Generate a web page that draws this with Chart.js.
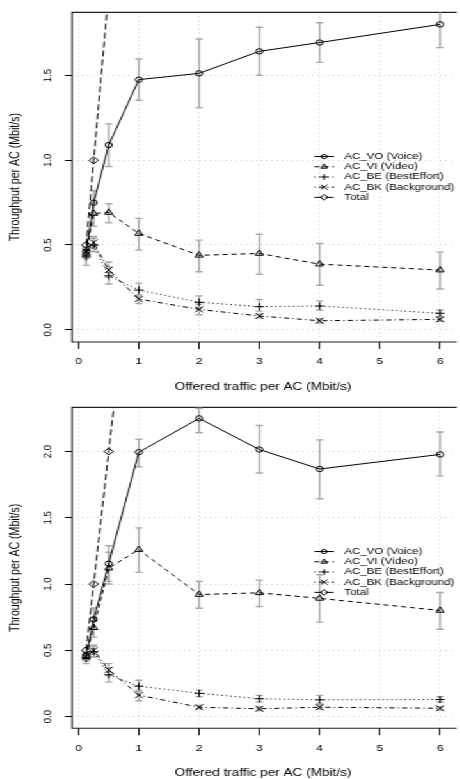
<!DOCTYPE html>
<html>
<head>
<meta charset="utf-8">
<script src="https://cdn.jsdelivr.net/npm/chart.js@4.4.0/dist/chart.umd.min.js"></script>
<style>
  html, body { margin: 0; padding: 0; background: #fff; }
  body { width: 460px; height: 779px; overflow: hidden; }
  /* the reference figure is stretched horizontally, so the whole drawing is too */
  #wrap { position: relative; width: 360px; height: 779px; transform: scaleX(1.28); transform-origin: 0 0; }
  canvas { position: absolute; left: 0; }
  #top { top: 0; }
  #bot { top: 395px; }
</style>
</head>
<body>
<div id="wrap">
  <canvas id="top" width="360" height="395"></canvas>
  <canvas id="bot" width="360" height="384"></canvas>
</div>
<script>
// ─── data ────────────────────────────────────────────────────────────────
const offered   = [0.125, 0.25, 0.5, 1, 2, 3, 4, 6];
const totalLoad = [0.5, 1, 2, 4, 8, 12, 16, 24];
const seriesNames = ['AC_VO (Voice)', 'AC_VI (Video)', 'AC_BE (BestEffort)', 'AC_BK (Background)', 'Total'];
const xTicks = [0, 1, 2, 3, 4, 5, 6];
const xTitle = 'Offered traffic per AC (Mbit/s)';
const yTitle = 'Throughput per AC (Mbit/s)';

// upper panel
const yTicks1 = [0, 0.5, 1, 1.5];
const yRange1 = [-0.0725, 1.873];
const vo1   = [0.46, 0.75, 1.09, 1.476, 1.513, 1.643, 1.695, 1.802];
const vo1Lo = [0.43, 0.68, 0.963, 1.354, 1.311, 1.502, 1.578, 1.665];
const vo1Hi = [0.49, 0.82, 1.215, 1.598, 1.716, 1.785, 1.812, 1.93];
const vi1   = [0.45, 0.686, 0.692, 0.568, 0.439, 0.45, 0.387, 0.352];
const vi1Lo = [0.42, 0.61, 0.631, 0.47, 0.342, 0.327, 0.262, 0.24];
const vi1Hi = [0.48, 0.75, 0.743, 0.657, 0.529, 0.563, 0.509, 0.458];
const be1   = [0.43, 0.50, 0.318, 0.234, 0.162, 0.136, 0.14, 0.097];
const be1Lo = [0.38, 0.46, 0.27, 0.20, 0.13, 0.11, 0.115, 0.08];
const be1Hi = [0.47, 0.54, 0.37, 0.275, 0.20, 0.178, 0.17, 0.116];
const bk1   = [0.46, 0.515, 0.352, 0.181, 0.12, 0.081, 0.053, 0.061];
const bk1Lo = [0.43, 0.48, 0.31, 0.155, 0.088, 0.07, 0.04, 0.05];
const bk1Hi = [0.49, 0.55, 0.40, 0.205, 0.15, 0.092, 0.065, 0.072];

// lower panel
const yTicks2 = [0, 0.5, 1, 1.5, 2];
const yRange2 = [-0.088, 2.333];
const vo2   = [0.46, 0.733, 1.154, 1.995, 2.25, 2.015, 1.868, 1.978];
const vo2Lo = [0.43, 0.66, 1.02, 1.885, 2.142, 1.838, 1.644, 1.816];
const vo2Hi = [0.49, 0.82, 1.289, 2.093, 2.326, 2.196, 2.088, 2.147];
const vi2   = [0.46, 0.671, 1.12, 1.26, 0.921, 0.934, 0.892, 0.801];
const vi2Lo = [0.43, 0.60, 1.0, 1.088, 0.818, 0.831, 0.713, 0.659];
const vi2Hi = [0.49, 0.75, 1.24, 1.424, 1.02, 1.03, 1.07, 0.936];
const be2   = [0.44, 0.49, 0.316, 0.23, 0.176, 0.135, 0.127, 0.129];
const be2Lo = [0.40, 0.45, 0.26, 0.19, 0.15, 0.11, 0.10, 0.11];
const be2Hi = [0.48, 0.53, 0.37, 0.274, 0.20, 0.16, 0.16, 0.15];
const bk2   = [0.45, 0.50, 0.353, 0.162, 0.071, 0.059, 0.071, 0.063];
const bk2Lo = [0.42, 0.47, 0.31, 0.12, 0.06, 0.045, 0.055, 0.05];
const bk2Hi = [0.48, 0.54, 0.40, 0.20, 0.085, 0.075, 0.09, 0.075];

// ─── styles ──────────────────────────────────────────────────────────────
const FONT = "'Liberation Sans', Arial, Helvetica, sans-serif";
const STYLES = [
  { pointStyle: 'circle',   radius: 2.7, dash: [] },
  { pointStyle: 'triangle', radius: 3.6, dash: [4, 3] },
  { pointStyle: 'cross',    radius: 3.6, dash: [1, 2.5] },
  { pointStyle: 'crossRot', radius: 4.2, dash: [1, 2.5, 4, 2.5] },
  { pointStyle: 'rectRot',  radius: 3.6, dash: [6, 3] },
];

// gray error bars, clipped to the plot region
const errorBars = {
  id: 'errorBars',
  beforeDatasetsDraw(chart) {
    const { ctx, chartArea: a, scales: { x, y } } = chart;
    ctx.save();
    ctx.beginPath(); ctx.rect(a.left, a.top, a.right - a.left, a.bottom - a.top); ctx.clip();
    ctx.strokeStyle = '#a8a8a8'; ctx.lineWidth = 1.4;
    chart.data.datasets.forEach(ds => {
      if (!ds.errLo) return;
      ds.data.forEach((p, i) => {
        const px = x.getPixelForValue(p.x);
        const y1 = y.getPixelForValue(ds.errLo[i]);
        const y2 = y.getPixelForValue(ds.errHi[i]);
        ctx.beginPath();
        ctx.moveTo(px, y1); ctx.lineTo(px, y2);
        ctx.moveTo(px - 2.8, y1); ctx.lineTo(px + 2.8, y1);
        ctx.moveTo(px - 2.8, y2); ctx.lineTo(px + 2.8, y2);
        ctx.stroke();
      });
    });
    ctx.restore();
  },
};

// R-style frame: left, top and bottom edges (right edge is outside the picture)
const frame = {
  id: 'frame',
  beforeDatasetsDraw(chart) {
    const { ctx, chartArea: a } = chart;
    ctx.save();
    ctx.strokeStyle = '#222'; ctx.lineWidth = 1.1;
    ctx.beginPath();
    ctx.moveTo(a.right + 2, a.top); ctx.lineTo(a.left, a.top);
    ctx.lineTo(a.left, a.bottom); ctx.lineTo(a.right + 2, a.bottom);
    ctx.stroke();
    ctx.restore();
  },
};

// legend in the style of R's legend(): short line + symbol + label
const rLegend = {
  id: 'rLegend',
  afterDraw(chart, args, o) {
    const { ctx, chartArea: a } = chart;
    ctx.save();
    ctx.font = `9px ${FONT}`;
    ctx.textBaseline = 'middle';
    chart.data.datasets.forEach((ds, i) => {
      const y  = a.top + o.top + i * o.step;
      const x0 = a.left + o.left;
      ctx.strokeStyle = '#000'; ctx.lineWidth = 1;
      ctx.setLineDash(ds.borderDash || []);
      ctx.beginPath(); ctx.moveTo(x0, y); ctx.lineTo(x0 + o.lineLen, y); ctx.stroke();
      ctx.setLineDash([]);
      ctx.fillStyle = 'rgba(0,0,0,0)';
      Chart.helpers.drawPoint(ctx, { pointStyle: ds.pointStyle, radius: ds.pointRadius * 0.8, borderWidth: 1, rotation: 0 }, x0 + o.lineLen / 2, y);
      ctx.fillStyle = '#000';
      ctx.fillText(ds.label, x0 + o.textGap, y);
    });
    ctx.restore();
  },
};

function series(label, i, ys, lo, hi) {
  const st = STYLES[i];
  return {
    label,
    data: offered.map((x, k) => ({ x, y: ys[k] })),
    errLo: lo, errHi: hi,
    borderColor: '#000', borderWidth: 1, borderDash: st.dash,
    pointStyle: st.pointStyle, pointRadius: st.radius, pointBorderWidth: 1,
    pointBorderColor: '#000', pointBackgroundColor: 'rgba(0,0,0,0)',
    tension: 0, clip: 0,
  };
}

function makeChart(id, p) {
  return new Chart(document.getElementById(id), {
    type: 'line',
    data: {
      datasets: [
        series(seriesNames[0], 0, p.vo, p.voLo, p.voHi),
        series(seriesNames[1], 1, p.vi, p.viLo, p.viHi),
        series(seriesNames[2], 2, p.be, p.beLo, p.beHi),
        series(seriesNames[3], 3, p.bk, p.bkLo, p.bkHi),
        series(seriesNames[4], 4, totalLoad),
      ],
    },
    options: {
      responsive: false,
      animation: false,
      devicePixelRatio: 1,
      layout: { padding: { top: p.padTop, left: 0, right: 0, bottom: 0 } },
      plugins: {
        legend: { display: false },
        tooltip: { enabled: false },
        rLegend: { top: 144.2, step: 10.2, left: 189.3, lineLen: 15.4, textGap: 23.5 },
      },
      scales: {
        x: {
          type: 'linear', min: -0.1096, max: 6.233,
          afterBuildTicks: s => { s.ticks = xTicks.map(v => ({ value: v })); },
          afterFit: s => { s.height = p.xAxisH; },
          ticks: { color: '#000', font: { family: FONT, size: 9.6 }, padding: 6.9, maxRotation: 0, callback: v => String(v) },
          grid: { color: '#cfcfcf', tickColor: '#000', tickLength: 7, lineWidth: 1 },
          border: { display: false, dash: [1, 3] },
          title: { display: true, text: xTitle, color: '#000', font: { family: FONT, size: 10.6 }, padding: { top: 0, bottom: p.titlePadB } },
        },
        y: {
          type: 'linear', min: p.yRange[0], max: p.yRange[1],
          afterBuildTicks: s => { s.ticks = p.yTicks.map(v => ({ value: v })); },
          afterFit: s => { s.width = 56.25; },
          ticks: { color: '#000', font: { family: FONT, size: 9.6 }, padding: 6.6, minRotation: 90, maxRotation: 90, crossAlign: 'center', callback: v => v.toFixed(1) },
          grid: { color: '#cfcfcf', tickColor: '#000', tickLength: 5.5, lineWidth: 1 },
          border: { display: false, dash: [1, 3] },
          title: { display: true, text: yTitle, color: '#000', font: { family: FONT, size: 10.6 }, padding: { top: 6.1, bottom: 0 } },
        },
      },
    },
    plugins: [frame, errorBars, rLegend],
  });
}

makeChart('top', {
  padTop: 12, xAxisH: 53, titlePadB: 1.4, yRange: yRange1, yTicks: yTicks1,
  vo: vo1, voLo: vo1Lo, voHi: vo1Hi, vi: vi1, viLo: vi1Lo, viHi: vi1Hi,
  be: be1, beLo: be1Lo, beHi: be1Hi, bk: bk1, bkLo: bk1Lo, bkHi: bk1Hi,
});
makeChart('bot', {
  padTop: 4, xAxisH: 50.7, titlePadB: 0, yRange: yRange2, yTicks: yTicks2,
  vo: vo2, voLo: vo2Lo, voHi: vo2Hi, vi: vi2, viLo: vi2Lo, viHi: vi2Hi,
  be: be2, beLo: be2Lo, beHi: be2Hi, bk: bk2, bkLo: bk2Lo, bkHi: bk2Hi,
});
</script>
</body>
</html>
